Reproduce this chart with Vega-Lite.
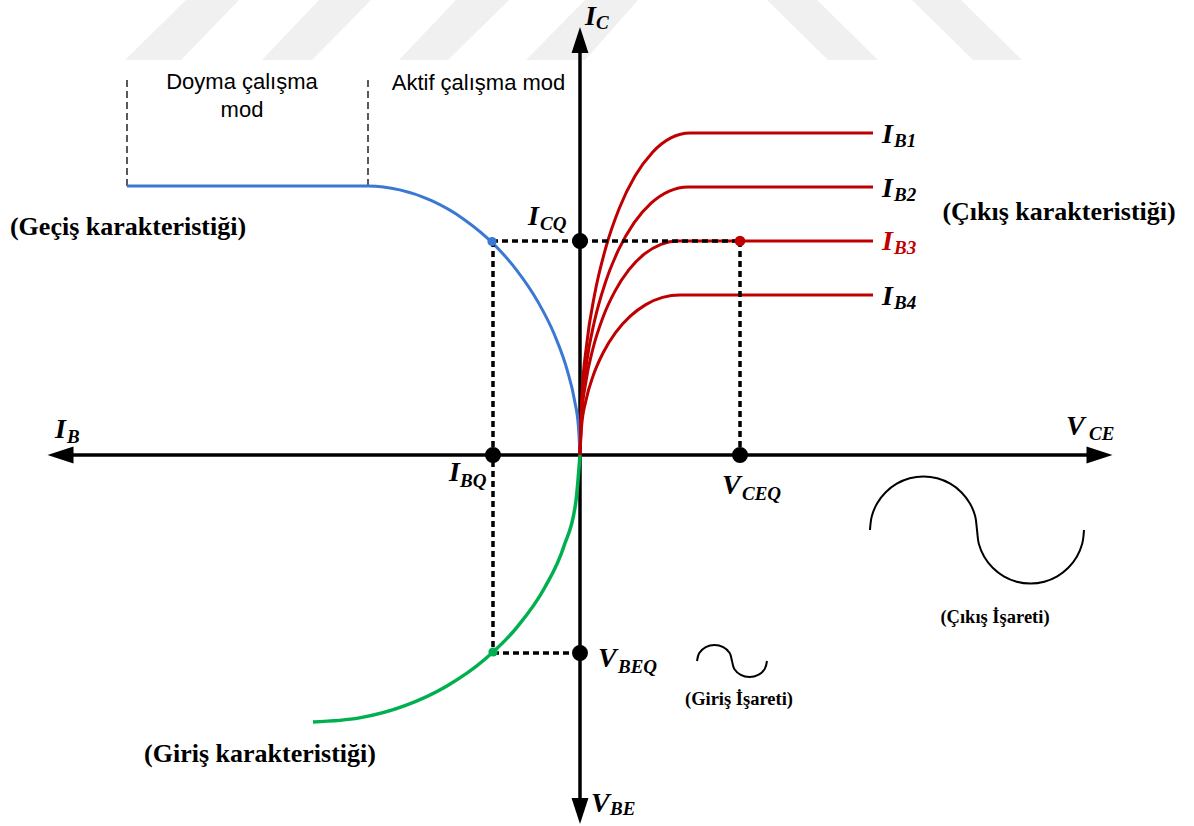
{
  "$schema": "https://vega.github.io/schema/vega-lite/v6.json",
  "width": 1194,
  "height": 826,
  "autosize": {"type": "fit", "contains": "padding"},
  "padding": 0,
  "background": "white",
  "config": {"view": {"stroke": null}},
  "datasets": {
    "stripes": [
      {"s": 1, "y": 455, "x": -394, "x2": -341}, {"s": 1, "y": 395, "x": -455, "x2": -399},
      {"s": 2, "y": 455, "x": -261, "x2": -209}, {"s": 2, "y": 395, "x": -318, "x2": -268},
      {"s": 3, "y": 455, "x": -124, "x2": -71}, {"s": 3, "y": 395, "x": -181, "x2": -132},
      {"s": 4, "y": 455, "x": 5, "x2": 58}, {"s": 4, "y": 395, "x": -54, "x2": 5},
      {"s": 5, "y": 455, "x": 187, "x2": 237}, {"s": 5, "y": 395, "x": 248, "x2": 298},
      {"s": 6, "y": 455, "x": 332, "x2": 381}, {"s": 6, "y": 395, "x": 393, "x2": 442}
    ],
    "rules": [
      {"k": "ax", "x": -510, "x2": 510, "y": 0, "y2": 0},
      {"k": "ax", "x": 0, "x2": 0, "y": 405, "y2": -345},
      {"k": "dq", "x": -88, "x2": 160, "y": 214, "y2": 214},
      {"k": "dq", "x": -87, "x2": -87, "y": 214, "y2": -198},
      {"k": "dq", "x": 160, "x2": 160, "y": 214, "y2": 0},
      {"k": "dq", "x": -87, "x2": 0, "y": -198, "y2": -198},
      {"k": "bd", "x": -453, "x2": -453, "y": 375, "y2": 269},
      {"k": "bd", "x": -212, "x2": -212, "y": 375, "y2": 269}
    ],
    "curves": [
      {"c": "blue", "x": -453, "y": 269}, {"c": "blue", "x": -212, "y": 269}, {"c": "blue", "x": -180.2, "y": 265.1},
      {"c": "blue", "x": -148.4, "y": 254.3}, {"c": "blue", "x": -116.6, "y": 236.1}, {"c": "blue", "x": -84.8, "y": 209.4},
      {"c": "blue", "x": -63.6, "y": 185.2}, {"c": "blue", "x": -42.4, "y": 153.8}, {"c": "blue", "x": -25.4, "y": 120},
      {"c": "blue", "x": -12.7, "y": 84.5}, {"c": "blue", "x": -5.3, "y": 53.8}, {"c": "blue", "x": -1.5, "y": 27.6},
      {"c": "blue", "x": 0, "y": 0},
      {"c": "r1", "x": 0, "y": 0}, {"c": "r1", "x": 1.7, "y": 55.9}, {"c": "r1", "x": 6.6, "y": 110.1}, {"c": "r1", "x": 14.7, "y": 161},
      {"c": "r1", "x": 25.7, "y": 207}, {"c": "r1", "x": 39.3, "y": 246.7}, {"c": "r1", "x": 55, "y": 278.9}, {"c": "r1", "x": 72.4, "y": 302.6},
      {"c": "r1", "x": 90.9, "y": 317.1}, {"c": "r1", "x": 110, "y": 322}, {"c": "r1", "x": 293, "y": 322},
      {"c": "r2", "x": 0, "y": 0}, {"c": "r2", "x": 1.6, "y": 46.5}, {"c": "r2", "x": 6.5, "y": 91.7}, {"c": "r2", "x": 14.5, "y": 134},
      {"c": "r2", "x": 25.3, "y": 172.3}, {"c": "r2", "x": 38.6, "y": 205.3}, {"c": "r2", "x": 54, "y": 232.1}, {"c": "r2", "x": 71.1, "y": 251.8},
      {"c": "r2", "x": 89.3, "y": 263.9}, {"c": "r2", "x": 108, "y": 268}, {"c": "r2", "x": 293, "y": 268},
      {"c": "r3", "x": 0, "y": 0}, {"c": "r3", "x": 1.5, "y": 37.2}, {"c": "r3", "x": 5.9, "y": 73.2}, {"c": "r3", "x": 13.1, "y": 107},
      {"c": "r3", "x": 22.9, "y": 137.6}, {"c": "r3", "x": 35, "y": 163.9}, {"c": "r3", "x": 49, "y": 185.3}, {"c": "r3", "x": 64.5, "y": 201.1},
      {"c": "r3", "x": 81, "y": 210.7}, {"c": "r3", "x": 98, "y": 214}, {"c": "r3", "x": 293, "y": 214},
      {"c": "r4", "x": 0, "y": 0}, {"c": "r4", "x": 1.5, "y": 27.8}, {"c": "r4", "x": 6, "y": 54.7}, {"c": "r4", "x": 13.4, "y": 80},
      {"c": "r4", "x": 23.4, "y": 102.8}, {"c": "r4", "x": 35.7, "y": 122.6}, {"c": "r4", "x": 50, "y": 138.6}, {"c": "r4", "x": 65.8, "y": 150.4},
      {"c": "r4", "x": 82.6, "y": 157.6}, {"c": "r4", "x": 100, "y": 160}, {"c": "r4", "x": 293, "y": 160},
      {"c": "green", "x": 0, "y": 0}, {"c": "green", "x": -4.1, "y": -46.4}, {"c": "green", "x": -16.1, "y": -91.3},
      {"c": "green", "x": -35.8, "y": -133.5}, {"c": "green", "x": -62.5, "y": -171.6}, {"c": "green", "x": -95.4, "y": -204.5},
      {"c": "green", "x": -133.5, "y": -231.2}, {"c": "green", "x": -175.7, "y": -250.9}, {"c": "green", "x": -220.6, "y": -262.9},
      {"c": "green", "x": -267, "y": -267},
      {"c": "sout", "x": 290, "y": -75}, {"c": "sout", "x": 291.8, "y": -61.2}, {"c": "sout", "x": 297.2, "y": -48.25},
      {"c": "sout", "x": 305.7, "y": -37.2}, {"c": "sout", "x": 316.75, "y": -28.7}, {"c": "sout", "x": 329.7, "y": -23.3},
      {"c": "sout", "x": 343.5, "y": -21.5}, {"c": "sout", "x": 357.3, "y": -23.3}, {"c": "sout", "x": 370.25, "y": -28.7},
      {"c": "sout", "x": 381.3, "y": -37.2}, {"c": "sout", "x": 389.8, "y": -48.25}, {"c": "sout", "x": 395.2, "y": -61.2},
      {"c": "sout", "x": 397, "y": -75}, {"c": "sout", "x": 398.8, "y": -88.8}, {"c": "sout", "x": 404.2, "y": -101.75},
      {"c": "sout", "x": 412.7, "y": -112.8}, {"c": "sout", "x": 423.75, "y": -121.3}, {"c": "sout", "x": 436.7, "y": -126.7},
      {"c": "sout", "x": 450.5, "y": -128.5}, {"c": "sout", "x": 464.3, "y": -126.7}, {"c": "sout", "x": 477.25, "y": -121.3},
      {"c": "sout", "x": 488.3, "y": -112.8}, {"c": "sout", "x": 496.8, "y": -101.75}, {"c": "sout", "x": 502.2, "y": -88.8},
      {"c": "sout", "x": 504, "y": -75},
      {"c": "sin", "x": 117, "y": -206}, {"c": "sin", "x": 119.3, "y": -198}, {"c": "sin", "x": 125.75, "y": -192.1},
      {"c": "sin", "x": 134.5, "y": -190}, {"c": "sin", "x": 143.25, "y": -192.1}, {"c": "sin", "x": 149.7, "y": -198},
      {"c": "sin", "x": 152, "y": -206}, {"c": "sin", "x": 154.3, "y": -214}, {"c": "sin", "x": 160.75, "y": -219.9},
      {"c": "sin", "x": 169.5, "y": -222}, {"c": "sin", "x": 178.25, "y": -219.9}, {"c": "sin", "x": 184.7, "y": -214},
      {"c": "sin", "x": 187, "y": -206}
    ],
    "dots": [
      {"c": "k", "x": 0, "y": 214}, {"c": "k", "x": -87, "y": 0}, {"c": "k", "x": 160, "y": 0}, {"c": "k", "x": 0, "y": -198},
      {"c": "r", "x": 160, "y": 214}, {"c": "b", "x": -88, "y": 213.5}, {"c": "g", "x": -87, "y": -197}
    ],
    "arrows": [
      {"d": "up", "x": 0, "y": 415}, {"d": "down", "x": 0, "y": -356},
      {"d": "left", "x": -519.5, "y": 0}, {"d": "right", "x": 519.5, "y": 0}
    ],
    "mainL": [
      {"t": "I", "x": 5, "y": 430}, {"t": "I", "x": 302, "y": 312}, {"t": "I", "x": 302, "y": 258}, {"t": "I", "x": 302, "y": 150},
      {"t": "I", "x": -52, "y": 230}, {"t": "I", "x": -131, "y": -26}, {"t": "V", "x": 142, "y": -39}, {"t": "V", "x": 18, "y": -212},
      {"t": "V", "x": 11, "y": -357}, {"t": "I", "x": -525, "y": 17}, {"t": "V", "x": 486, "y": 20}
    ],
    "subL": [
      {"t": "C", "x": 16, "y": 426}, {"t": "B1", "x": 314, "y": 308}, {"t": "B2", "x": 314, "y": 254}, {"t": "B4", "x": 314, "y": 146},
      {"t": "CQ", "x": -40, "y": 225}, {"t": "BQ", "x": -120, "y": -32}, {"t": "CEQ", "x": 162, "y": -45}, {"t": "BEQ", "x": 38, "y": -218},
      {"t": "BE", "x": 30, "y": -360}, {"t": "B", "x": -513, "y": 12}, {"t": "CE", "x": 509, "y": 15}
    ],
    "redL": [
      {"t": "I", "x": 302, "y": 205, "s": "m"}, {"t": "B3", "x": 314, "y": 201, "s": "s"}
    ],
    "titles": [
      {"t": "(Geçiş karakteristiği)", "x": -452, "y": 220},
      {"t": "(Çıkış karakteristiği)", "x": 479, "y": 235},
      {"t": "(Giriş karakteristiği)", "x": -320, "y": -307}
    ],
    "smallL": [
      {"t": "(Çıkış İşareti)", "x": 415, "y": -168},
      {"t": "(Giriş İşareti)", "x": 159, "y": -250}
    ],
    "sansL": [
      {"t": "Doyma çalışma", "x": -338, "y": 366},
      {"t": "mod", "x": -338, "y": 338},
      {"t": "Aktif çalışma mod", "x": -101.5, "y": 365}
    ]
  },
  "encoding": {
    "x": {"field": "x", "type": "quantitative", "scale": {"domain": [-580, 614], "nice": false, "zero": false}, "axis": null},
    "y": {"field": "y", "type": "quantitative", "scale": {"domain": [-371, 455], "nice": false, "zero": false}, "axis": null}
  },
  "layer": [
    {
      "data": {"name": "stripes"},
      "mark": {"type": "area", "orient": "horizontal", "color": "#f0f0f0"},
      "encoding": {"x2": {"field": "x2"}, "detail": {"field": "s", "type": "nominal"}}
    },
    {
      "data": {"name": "rules"},
      "transform": [{"filter": "datum.k === 'ax'"}],
      "mark": {"type": "rule", "color": "black", "strokeWidth": 3.5},
      "encoding": {"x2": {"field": "x2"}, "y2": {"field": "y2"}}
    },
    {
      "data": {"name": "arrows"},
      "transform": [{"filter": "datum.d === 'up'"}],
      "mark": {"type": "point", "shape": "M0,-1L0.65,1L-0.65,1Z", "filled": true, "color": "black", "size": 676, "opacity": 1},
      "encoding": {}
    },
    {
      "data": {"name": "arrows"},
      "transform": [{"filter": "datum.d === 'down'"}],
      "mark": {"type": "point", "shape": "M0,1L0.65,-1L-0.65,-1Z", "filled": true, "color": "black", "size": 676, "opacity": 1},
      "encoding": {}
    },
    {
      "data": {"name": "arrows"},
      "transform": [{"filter": "datum.d === 'left'"}],
      "mark": {"type": "point", "shape": "M-1,0L1,-0.65L1,0.65Z", "filled": true, "color": "black", "size": 676, "opacity": 1},
      "encoding": {}
    },
    {
      "data": {"name": "arrows"},
      "transform": [{"filter": "datum.d === 'right'"}],
      "mark": {"type": "point", "shape": "M1,0L-1,-0.65L-1,0.65Z", "filled": true, "color": "black", "size": 676, "opacity": 1},
      "encoding": {}
    },
    {
      "data": {"name": "rules"},
      "transform": [{"filter": "datum.k === 'bd'"}],
      "mark": {"type": "rule", "color": "black", "strokeWidth": 1.3, "strokeDash": [7, 4]},
      "encoding": {"x2": {"field": "x2"}, "y2": {"field": "y2"}}
    },
    {
      "data": {"name": "curves"},
      "transform": [{"filter": "datum.c === 'blue'"}],
      "mark": {"type": "line", "color": "#3a78d4", "strokeWidth": 3, "interpolate": "monotone"},
      "encoding": {"detail": {"field": "c", "type": "nominal"}}
    },
    {
      "data": {"name": "curves"},
      "transform": [{"filter": {"field": "c", "oneOf": ["r1", "r2", "r3", "r4"]}}],
      "mark": {"type": "line", "color": "#c00000", "strokeWidth": 3, "interpolate": "monotone"},
      "encoding": {"detail": {"field": "c", "type": "nominal"}}
    },
    {
      "data": {"name": "curves"},
      "transform": [{"filter": "datum.c === 'green'"}],
      "mark": {"type": "line", "color": "#00b050", "strokeWidth": 3.5, "interpolate": "monotone"},
      "encoding": {"detail": {"field": "c", "type": "nominal"}}
    },
    {
      "data": {"name": "curves"},
      "transform": [{"filter": {"field": "c", "oneOf": ["sout", "sin"]}}],
      "mark": {"type": "line", "color": "black", "strokeWidth": 2, "interpolate": "cardinal"},
      "encoding": {"detail": {"field": "c", "type": "nominal"}}
    },
    {
      "data": {"name": "rules"},
      "transform": [{"filter": "datum.k === 'dq'"}],
      "mark": {"type": "rule", "color": "black", "strokeWidth": 3.5, "strokeDash": [6, 4]},
      "encoding": {"x2": {"field": "x2"}, "y2": {"field": "y2"}}
    },
    {
      "data": {"name": "dots"},
      "transform": [{"filter": "datum.c === 'k'"}],
      "mark": {"type": "circle", "color": "black", "size": 254, "opacity": 1},
      "encoding": {}
    },
    {
      "data": {"name": "dots"},
      "transform": [{"filter": "datum.c === 'r'"}],
      "mark": {"type": "circle", "color": "#c00000", "size": 113, "opacity": 1},
      "encoding": {}
    },
    {
      "data": {"name": "dots"},
      "transform": [{"filter": "datum.c === 'b'"}],
      "mark": {"type": "circle", "color": "#3a78d4", "size": 85, "opacity": 1},
      "encoding": {}
    },
    {
      "data": {"name": "dots"},
      "transform": [{"filter": "datum.c === 'g'"}],
      "mark": {"type": "circle", "color": "#00b050", "size": 85, "opacity": 1},
      "encoding": {}
    },
    {
      "data": {"name": "mainL"},
      "mark": {"type": "text", "font": "Liberation Serif", "fontWeight": "bold", "fontStyle": "italic", "fontSize": 28, "align": "left", "baseline": "alphabetic", "color": "black"},
      "encoding": {"text": {"field": "t"}}
    },
    {
      "data": {"name": "subL"},
      "mark": {"type": "text", "font": "Liberation Serif", "fontWeight": "bold", "fontStyle": "italic", "fontSize": 19, "align": "left", "baseline": "alphabetic", "color": "black"},
      "encoding": {"text": {"field": "t"}}
    },
    {
      "data": {"name": "redL"},
      "transform": [{"filter": "datum.s === 'm'"}],
      "mark": {"type": "text", "font": "Liberation Serif", "fontWeight": "bold", "fontStyle": "italic", "fontSize": 28, "align": "left", "baseline": "alphabetic", "color": "#c00000"},
      "encoding": {"text": {"field": "t"}}
    },
    {
      "data": {"name": "redL"},
      "transform": [{"filter": "datum.s === 's'"}],
      "mark": {"type": "text", "font": "Liberation Serif", "fontWeight": "bold", "fontStyle": "italic", "fontSize": 19, "align": "left", "baseline": "alphabetic", "color": "#c00000"},
      "encoding": {"text": {"field": "t"}}
    },
    {
      "data": {"name": "titles"},
      "mark": {"type": "text", "font": "Liberation Serif", "fontWeight": "bold", "fontSize": 26, "align": "center", "baseline": "alphabetic", "color": "black"},
      "encoding": {"text": {"field": "t"}}
    },
    {
      "data": {"name": "smallL"},
      "mark": {"type": "text", "font": "Liberation Serif", "fontWeight": "bold", "fontSize": 18.5, "align": "center", "baseline": "alphabetic", "color": "black"},
      "encoding": {"text": {"field": "t"}}
    },
    {
      "data": {"name": "sansL"},
      "mark": {"type": "text", "font": "Liberation Sans", "fontSize": 22, "align": "center", "baseline": "alphabetic", "color": "black"},
      "encoding": {"text": {"field": "t"}}
    }
  ]
}
